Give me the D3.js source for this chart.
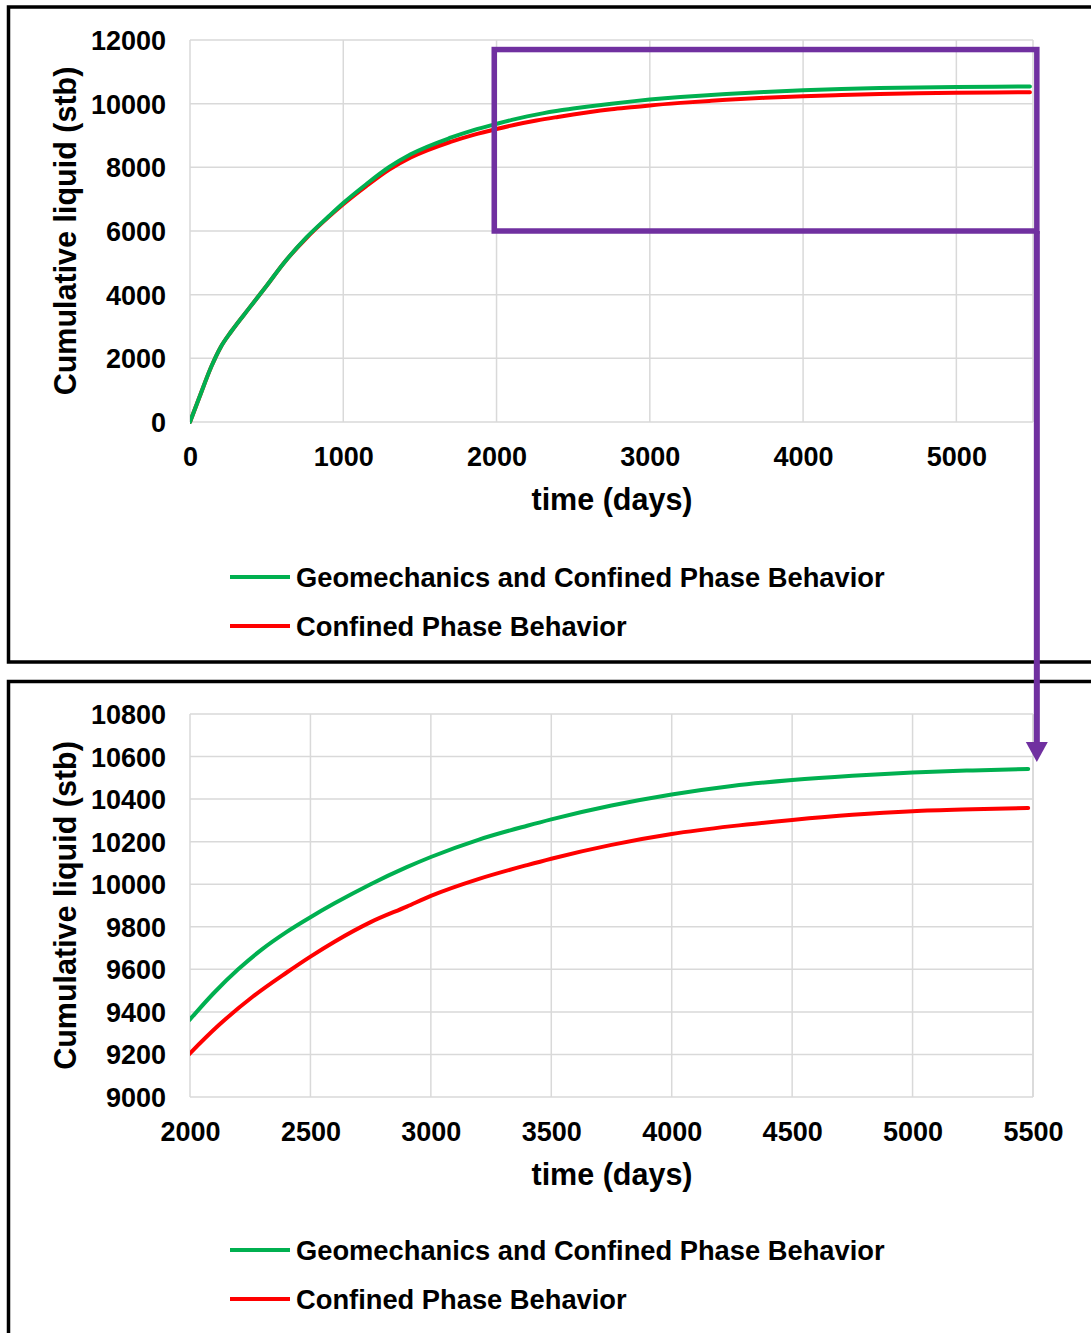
<!DOCTYPE html>
<html>
<head>
<meta charset="utf-8">
<script src="https://cdn.jsdelivr.net/npm/d3@7"></script>
<style>
  body { margin: 0; background: #fff; }
  text { font-family: "Liberation Sans", Arial, sans-serif; font-weight: bold; fill: #000; }
  .grid line { stroke: #d9d9d9; stroke-width: 1.5; }
  .axis path, .axis line { display: none; }
</style>
</head>
<body>
<div id="chart"></div>
<script>
// cumulative liquid vs time
const geoTime = [0, 60, 140, 200, 270, 390, 500, 610, 760, 900, 1000, 1150, 1300, 1440, 1700, 1850, 2000,
  2100, 2200, 2300, 2400, 2500, 2600, 2750, 2900, 3000, 3200, 3400, 3500, 3750, 4000, 4250, 4500, 4750, 5000, 5250, 5480];
const geoLiquid = [0, 760, 1750, 2350, 2850, 3600, 4280, 4980, 5800, 6440, 6880, 7470, 8010, 8410, 8930, 9170, 9365,
  9490, 9600, 9695, 9775, 9845, 9910, 10000, 10080, 10128, 10210, 10275, 10305, 10370, 10422, 10462, 10490, 10510, 10525, 10535, 10542];

const confTime = [0, 60, 140, 200, 270, 390, 500, 610, 760, 900, 1000, 1150, 1300, 1440, 1700, 1850, 2000,
  2120, 2260, 2400, 2500, 2600, 2750, 2900, 3000, 3200, 3400, 3500, 3750, 4000, 4250, 4500, 4750, 5000, 5250, 5480];
const confLiquid = [0, 760, 1750, 2350, 2850, 3600, 4280, 4980, 5780, 6420, 6840, 7410, 7930, 8310, 8800, 9020, 9205,
  9338, 9471, 9584, 9660, 9730, 9822, 9895, 9945, 10025, 10090, 10120, 10185, 10236, 10273, 10302, 10326, 10343, 10352, 10358];

const seriesNames = ["Geomechanics and Confined Phase Behavior", "Confined Phase Behavior"];
const seriesColors = ["#00b050", "#ff0000"];

const topXTicks = [0, 1000, 2000, 3000, 4000, 5000];
const topYTicks = [0, 2000, 4000, 6000, 8000, 10000, 12000];
const bottomXTicks = [2000, 2500, 3000, 3500, 4000, 4500, 5000, 5500];
const bottomYTicks = [9000, 9200, 9400, 9600, 9800, 10000, 10200, 10400, 10600, 10800];

// zoom box drawn on the top chart, in data units
const zoomBox = { t0: 1985, t1: 5525, q0: 6000, q1: 11700 };
const arrowEndLiquid = 10575;

const width = 1091;
const height = 1333;

const series = [
  geoTime.map((t, i) => ({ t: t, q: geoLiquid[i] })),
  confTime.map((t, i) => ({ t: t, q: confLiquid[i] }))
];

const svg = d3.select("#chart")
  .append("svg")
  .attr("width", width)
  .attr("height", height);

// panel frames
svg.append("rect")
  .attr("x", 8.5).attr("y", 7)
  .attr("width", 1100).attr("height", 655)
  .attr("fill", "none").attr("stroke", "#000").attr("stroke-width", 3.5);
svg.append("rect")
  .attr("x", 8.5).attr("y", 681.5)
  .attr("width", 1100).attr("height", 700)
  .attr("fill", "none").attr("stroke", "#000").attr("stroke-width", 3.5);

function panel(opts) {
  const x = d3.scaleLinear().domain(opts.xDomain).range([190, 1033]);
  const y = d3.scaleLinear().domain(opts.yDomain).range([opts.bottom, opts.top]);
  const g = svg.append("g");

  const clipId = "clip" + opts.id;
  g.append("clipPath").attr("id", clipId)
    .append("rect")
    .attr("x", 190).attr("y", opts.top - 5)
    .attr("width", 843 + 5).attr("height", opts.bottom - opts.top + 10);

  // grid
  g.append("g").attr("class", "grid")
    .selectAll("line.h")
    .data(opts.yTicks)
    .enter().append("line")
    .attr("x1", 190).attr("x2", 1033)
    .attr("y1", d => y(d)).attr("y2", d => y(d));
  g.append("g").attr("class", "grid")
    .selectAll("line.v")
    .data(opts.xTicks.concat([opts.xDomain[1]]))
    .enter().append("line")
    .attr("x1", d => x(d)).attr("x2", d => x(d))
    .attr("y1", opts.top).attr("y2", opts.bottom);

  // axes (labels only)
  g.append("g")
    .attr("class", "axis")
    .attr("transform", `translate(0, ${opts.bottom + 22})`)
    .call(d3.axisBottom(x).tickValues(opts.xTicks).tickSize(0).tickFormat(d3.format("d")))
    .selectAll("text").style("font-size", "27px").attr("dy", "0.71em");
  g.append("g")
    .attr("class", "axis")
    .attr("transform", `translate(166, 0)`)
    .call(d3.axisLeft(y).tickValues(opts.yTicks).tickSize(0).tickFormat(d3.format("d")))
    .selectAll("text").style("font-size", "27px").attr("x", 0).attr("dy", "0.35em");

  g.append("text")
    .attr("x", 612).attr("y", opts.bottom + 77)
    .attr("text-anchor", "middle")
    .attr("dy", "0.35em")
    .style("font-size", "30.5px")
    .text("time (days)");
  g.append("text")
    .attr("transform", `translate(65, ${(opts.top + opts.bottom) / 2}) rotate(-90)`)
    .attr("text-anchor", "middle")
    .attr("dy", "0.35em")
    .style("font-size", "30.5px")
    .text("Cumulative liquid (stb)");

  const line = d3.line()
    .x(d => x(d.t))
    .y(d => y(d.q))
    .curve(d3.curveMonotoneX);

  // red underneath green
  [1, 0].forEach(i => {
    g.append("path")
      .datum(series[i].filter(d => d.t >= opts.xDomain[0] - 200))
      .attr("clip-path", `url(#${clipId})`)
      .attr("d", line)
      .attr("fill", "none")
      .attr("stroke", seriesColors[i])
      .attr("stroke-width", 4)
      .attr("stroke-linecap", "round");
  });

  // legend
  const leg = g.append("g")
    .selectAll("g")
    .data(seriesNames)
    .enter().append("g")
    .attr("transform", (d, i) => `translate(0, ${opts.legendY + i * 49})`);
  leg.append("line")
    .attr("x1", 230).attr("x2", 290)
    .attr("stroke", (d, i) => seriesColors[i])
    .attr("stroke-width", 4);
  leg.append("text")
    .attr("x", 296)
    .attr("dy", "0.35em")
    .style("font-size", "27.3px")
    .text(d => d);

  return { x: x, y: y };
}

const topChart = panel({
  id: "top", xDomain: [0, 5500], yDomain: [0, 12000], top: 40, bottom: 422,
  xTicks: topXTicks, yTicks: topYTicks, legendY: 577
});
const bottomChart = panel({
  id: "bottom", xDomain: [2000, 5500], yDomain: [9000, 10800], top: 714, bottom: 1097,
  xTicks: bottomXTicks, yTicks: bottomYTicks, legendY: 1250
});

// purple zoom box and arrow
const purple = "#7030a0";
const bx0 = topChart.x(zoomBox.t0), bx1 = topChart.x(zoomBox.t1);
const by0 = topChart.y(zoomBox.q1), by1 = topChart.y(zoomBox.q0);
svg.append("rect")
  .attr("x", bx0).attr("y", by0)
  .attr("width", bx1 - bx0).attr("height", by1 - by0)
  .attr("fill", "none").attr("stroke", purple).attr("stroke-width", 5.5);

const tipY = bottomChart.y(arrowEndLiquid);
svg.append("line")
  .attr("x1", bx1).attr("x2", bx1)
  .attr("y1", by1).attr("y2", tipY - 18)
  .attr("stroke", purple).attr("stroke-width", 6);
svg.append("path")
  .attr("d", `M${bx1 - 11},${tipY - 20} L${bx1 + 11},${tipY - 20} L${bx1},${tipY} Z`)
  .attr("fill", purple);
</script>
</body>
</html>
